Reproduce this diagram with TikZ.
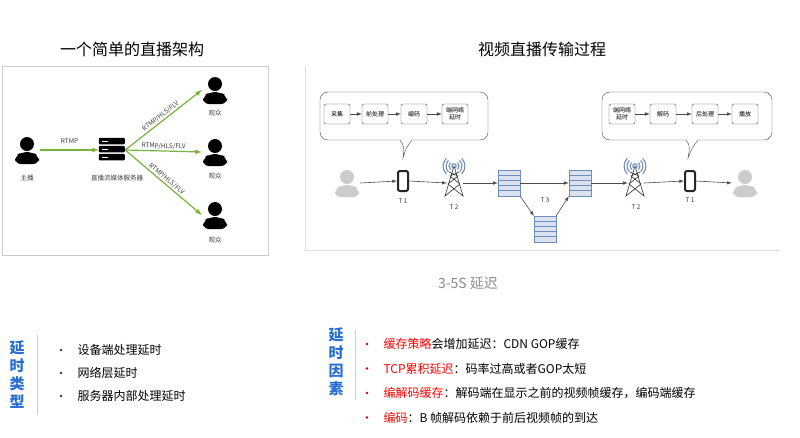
\documentclass[tikz,border=0pt]{standalone}
\usepackage{fontspec}
\setmainfont{Noto Sans CJK SC}
\usetikzlibrary{positioning}
\usetikzlibrary{calc}
\definecolor{arrowgreen}{RGB}{120,180,60}
\definecolor{titleblue}{RGB}{40,110,210}
\definecolor{lightblue}{RGB}{110,140,190}
\tikzset{stepbox/.style={draw=black!70, rounded corners=2pt, fill=white, minimum width=26pt, minimum height=20pt, font=\fontsize{6}{7}\selectfont, align=center, inner sep=2pt}}
\tikzset{smalllabel/.style={font=\fontsize{6.5}{8}\selectfont, text=black!75, inner sep=1pt}}
\tikzset{flow/.style={-latex, draw=black!70, line width=0.6pt}}
\tikzset{greenflow/.style={-latex, draw=arrowgreen, line width=1.2pt}}
\tikzset{itemtext/.style={font=\fontsize{12}{14}\selectfont, anchor=west}}
\newcommand{\person}[3]{% name, position, colour
  \node[minimum width=26pt, minimum height=30pt, inner sep=0pt] (#1) at #2 {};
  \fill[#3] ($(#1.center)+(0,-6)$) circle (7);
  \fill[#3, rounded corners=6pt] ($(#1.center)+(-12,14)$) -- ($(#1.center)+(-12,6)$) -- ($(#1.center)+(-5,2)$) -- ($(#1.center)+(5,2)$) -- ($(#1.center)+(12,6)$) -- ($(#1.center)+(12,14)$) -- cycle;
}
\newcommand{\serverstack}[3]{% name, position, rows
  \node[minimum width=22pt, minimum height=26pt, inner sep=0pt] (#1) at #2 {};
  \foreach \r in {1,...,#3}
    \draw[lightblue, fill=lightblue!25] ($(#1.north west)+(0,{(\r-1)*26/#3})$) rectangle ++(22,{26/#3});
}
\newcommand{\tower}[2]{% name, position
  \node[minimum width=22pt, minimum height=40pt, inner sep=0pt] (#1) at #2 {};
  \draw[black!80, line width=0.6pt] ($(#1.center)+(0,-10)$) -- ($(#1.center)+(-9,20)$) -- ($(#1.center)+(6,8)$) -- ($(#1.center)+(-4,0)$) -- ($(#1.center)+(5,-4)$);
  \draw[black!80, line width=0.6pt] ($(#1.center)+(0,-10)$) -- ($(#1.center)+(9,20)$) -- ($(#1.center)+(-6,8)$) -- ($(#1.center)+(4,0)$) -- ($(#1.center)+(-5,-4)$);
  \foreach \rr in {5,8,11}{
    \draw[lightblue, line width=1.1pt] ($(#1.center)+(-\rr*0.7,-10-\rr*0.7)$) arc (225:135:{\rr});
    \draw[lightblue, line width=1.1pt] ($(#1.center)+(\rr*0.7,-10-\rr*0.7)$) arc (-45:45:{\rr});
  }
  \draw[lightblue, line width=1.1pt] ($(#1.center)+(0,-10)$) circle (2.2);
}
\newcommand{\phone}[2]{% name, position
  \node[draw=black!85, line width=2pt, rounded corners=2pt, fill=white, minimum width=10pt, minimum height=20pt, inner sep=0pt] (#1) at #2 {};
}
\begin{document}
\begin{tikzpicture}[x=1pt, y=-1pt]
\useasboundingbox[fill=white] (0,0) rectangle (800,437);

% titles
\node[font=\fontsize{16}{18}\selectfont] (titleA) at (132,49) {一个简单的直播架构};
\node[font=\fontsize{16}{18}\selectfont] (titleB) at (542,49) {视频直播传输过程};

% left panel
\draw[black!20] (2,66) rectangle (268,255);
\person{host}{(27,150)}{black}
\person{viewA}{(215,90)}{black}
\person{viewB}{(215,152)}{black}
\person{viewC}{(215,215)}{black}
\node[smalllabel] (hostlbl) at (27,178) {主播};
\node[smalllabel] (viewAlbl) at (215,113) {观众};
\node[smalllabel] (viewBlbl) at (215,176) {观众};
\node[smalllabel] (viewClbl) at (215,240) {观众};
\node[minimum width=26pt, minimum height=24pt, inner sep=0pt] (server) at (112,150) {};
\foreach \k in {0,1,2}
  \fill[black, rounded corners=1pt] ($(server.north west)+(0,\k*8)$) rectangle ++(26,6.5);
\foreach \k in {0,1,2}
  \fill[white] ($(server.north west)+(3,\k*8+3)$) rectangle ++(6,1);
\node[smalllabel] (serverlbl) at (117,178) {直播流媒体服务器};
\draw[greenflow] (host.east) -- (server.west) node[midway, above=5pt, smalllabel] {RTMP};
\draw[greenflow] (server.east) -- (viewA.west) node[midway, above, sloped, smalllabel] {RTMP/HLS/FLV};
\draw[greenflow] (server.east) -- (viewB.west) node[midway, above, sloped, smalllabel] {RTMP/HLS/FLV};
\draw[greenflow] (server.east) -- (viewC.west) node[midway, above, sloped, smalllabel] {RTMP/HLS/FLV};

% right panel
\draw[black!12] (305,66) -- (305,250) -- (780,250);
\draw[black!70, rounded corners=8pt] (400,140) -- (320,140) -- (320,92) -- (488,92) -- (488,140) -- (412,140);
\draw[black!70] (400,140) .. controls (404,146) .. (403,158) .. controls (406,148) .. (412,140);
\draw[black!70, rounded corners=8pt] (686,140) -- (602,140) -- (602,92) -- (772,92) -- (772,140) -- (698,140);
\draw[black!70] (686,140) .. controls (690,146) .. (688,158) .. controls (692,148) .. (698,140);

\node[stepbox] (collect) at (337,114) {采集};
\node[stepbox] (prep) at (375,114) {前处理};
\node[stepbox] (enc) at (414,114) {编码};
\node[stepbox] (netA) at (455,114) {端网络\\延时};
\draw[flow] (collect) -- (prep);
\draw[flow] (prep) -- (enc);
\draw[flow] (enc) -- (netA);

\node[stepbox] (netB) at (622,114) {端网络\\延时};
\node[stepbox] (dec) at (663,114) {解码};
\node[stepbox] (post) at (705,114) {后处理};
\node[stepbox] (play) at (745,114) {播放};
\draw[flow] (netB) -- (dec);
\draw[flow] (dec) -- (post);
\draw[flow] (post) -- (play);

\person{sender}{(347,183)}{black!20}
\phone{phoneA}{(403,181)}
\tower{towerA}{(454,176)}
\serverstack{srvA}{(509,183)}{5}
\serverstack{srvB}{(580,183)}{5}
\serverstack{srvC}{(545,229)}{5}
\tower{towerB}{(635,176)}
\phone{phoneB}{(690,181)}
\person{receiver}{(745,183)}{black!20}
\node[smalllabel] (t1a) at (403,201) {T 1};
\node[smalllabel] (t2a) at (454,207) {T 2};
\node[smalllabel] (t3) at (545,200) {T 3};
\node[smalllabel] (t2b) at (636,207) {T 2};
\node[smalllabel] (t1b) at (690,200) {T 1};

\draw[flow] (sender.east) -- (phoneA.west);
\draw[flow] (phoneA.east) -- ($(towerA.west)+(4,7)$);
\draw[flow] ($(towerA.east)+(-2,7)$) -- (srvA.west);
\draw[flow] (srvA.east) -- (srvB.west);
\draw[flow] (srvA.south east) -- (srvC.north west);
\draw[flow] (srvC.north east) -- (srvB.south west);
\draw[flow] (srvB.east) -- ($(towerB.west)+(4,7)$);
\draw[flow] ($(towerB.east)+(-2,7)$) -- (phoneB.west);
\draw[flow] (phoneB.east) -- (receiver.west);

\node[font=\fontsize{14}{16}\selectfont\itshape, text=black!45] (delay) at (468,283) {3-5S 延迟};

% bottom lists
\node[font=\fontsize{15}{18}\selectfont\bfseries, text=titleblue, align=center] (typeA) at (17,375) {延\\时\\类\\型};
\draw[black!20] (37,335) -- (37,415);
\foreach \t [count=\i] in {设备端处理延时, 网络层延时, 服务器内部处理延时}{
  \node[itemtext] (typ\i) at (74,{350+(\i-1)*23}) {\t};
  \fill[black!80] (61,{350+(\i-1)*23}) circle (1.3);
}

\node[font=\fontsize{15}{18}\selectfont\bfseries, text=titleblue, align=center] (typeB) at (336,362) {延\\时\\因\\素};
\draw[black!20] (355,330) -- (355,400);
\foreach \i in {0,1,2,3}
  \fill[red!80!black] (367,{344+\i*24.5}) circle (1.3);
\node[itemtext] (fac1) at (380,344) {\textcolor{red}{缓存策略}会增加延迟：CDN GOP缓存};
\node[itemtext] (fac2) at (380,368.5) {\textcolor{red}{TCP累积延迟}：码率过高或者GOP太短};
\node[itemtext] (fac3) at (380,393) {\textcolor{red}{编解码缓存}：解码端在显示之前的视频帧缓存，编码端缓存};
\node[itemtext] (fac4) at (380,417.5) {\textcolor{red}{编码}：B 帧解码依赖于前后视频帧的到达};
\end{tikzpicture}
\end{document}
